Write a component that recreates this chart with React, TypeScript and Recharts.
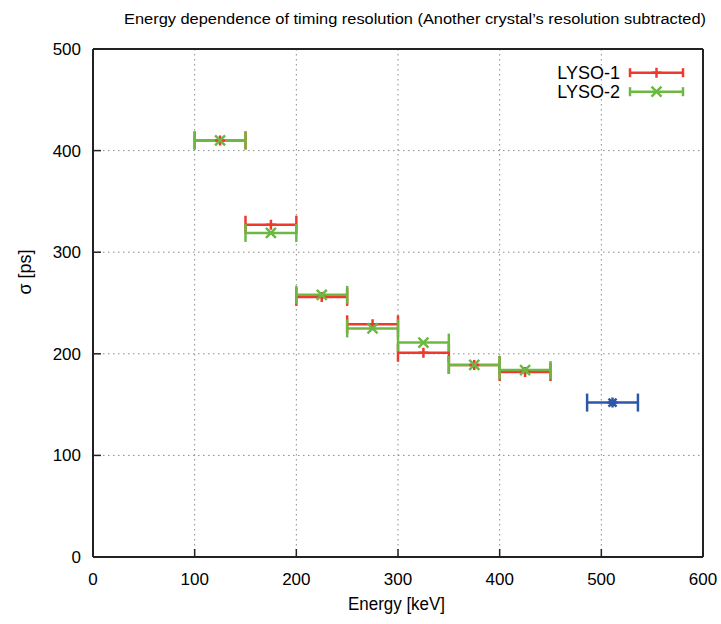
import { CartesianGrid, ErrorBar, Legend, Scatter, ScatterChart, XAxis, YAxis } from "recharts";

// bin centres (keV) and half bin width
const energy = [125, 175, 225, 275, 325, 375, 425];
const binHalf = [25, 25, 25, 25, 25, 25, 25];
// sigma [ps]
const lyso1 = [410, 327, 256, 229, 201, 189, 182];
const lyso2 = [410, 319, 258, 225, 211, 189, 184];
// photopeak point
const peakEnergy = [511];
const peakSigma = [152];
const peakHalf = [25];

const energyTicks = [0, 100, 200, 300, 400, 500, 600];
const sigmaTicks = [0, 100, 200, 300, 400, 500];

const RED = "#ee3a2e";
const GREEN = "#6cb843";
const BLUE = "#2c57a8";
const AXIS = "#222";
const FONT = "'Liberation Sans', Arial, Helvetica, sans-serif";

const rows = (xs: number[], ys: number[], es: number[]) =>
  xs.map((x, i) => ({ x, y: ys[i], err: es[i] }));

const d1 = rows(energy, lyso1, binHalf);
const d2 = rows(energy, lyso2, binHalf);
const dPeak = rows(peakEnergy, peakSigma, peakHalf);

type Pt = { cx?: number; cy?: number; fill?: string };

const Plus = ({ cx = 0, cy = 0, fill }: Pt) => (
  <path d={`M${cx - 5},${cy}H${cx + 5}M${cx},${cy - 5}V${cy + 5}`} stroke={fill} strokeWidth={2.5} />
);
const Cross = ({ cx = 0, cy = 0, fill }: Pt) => (
  <path
    d={`M${cx - 5},${cy - 5}L${cx + 5},${cy + 5}M${cx - 5},${cy + 5}L${cx + 5},${cy - 5}`}
    stroke={fill}
    strokeWidth={2.5}
  />
);
const Star = ({ cx = 0, cy = 0, fill }: Pt) => (
  <path
    d={`M${cx - 5},${cy}H${cx + 5}M${cx},${cy - 5}V${cy + 5}M${cx - 4},${cy - 4}L${cx + 4},${cy + 4}M${cx - 4},${cy + 4}L${cx + 4},${cy - 4}`}
    stroke={fill}
    strokeWidth={2.5}
  />
);

// gnuplot style: ticks point inwards, labels outside
const BottomTick = (p: any) => (
  <g>
    <line x1={p.x} x2={p.x} y1={p.y} y2={p.y - 8} stroke={AXIS} strokeWidth={1.5} />
    <text x={p.x} y={p.y + 28} textAnchor="middle" fontSize={17} fontFamily={FONT} fill="#000">
      {p.payload.value}
    </text>
  </g>
);
const TopTick = (p: any) => <line x1={p.x} x2={p.x} y1={p.y} y2={p.y + 8} stroke={AXIS} strokeWidth={1.5} />;
const LeftTick = (p: any) => (
  <g>
    <line x1={p.x} x2={p.x + 8} y1={p.y} y2={p.y} stroke={AXIS} strokeWidth={1.5} />
    <text x={p.x - 12} y={p.y + 6} textAnchor="end" fontSize={17} fontFamily={FONT} fill="#000">
      {p.payload.value}
    </text>
  </g>
);
const RightTick = (p: any) => <line x1={p.x} x2={p.x - 8} y1={p.y} y2={p.y} stroke={AXIS} strokeWidth={1.5} />;

const LegendBox = () => {
  const items = [
    { name: "LYSO-1", color: RED, Mark: Plus },
    { name: "LYSO-2", color: GREEN, Mark: Cross },
  ];
  return (
    <svg width={170} height={50} style={{ display: "block" }}>
      {items.map((it, i) => {
        const y = 17.7 + i * 19;
        return (
          <g key={it.name}>
            <text x={80} y={y + 6} textAnchor="end" fontSize={18} fontFamily={FONT} fill="#000">
              {it.name}
            </text>
            <line x1={90} x2={143} y1={y} y2={y} stroke={it.color} strokeWidth={2.5} />
            <line x1={90} x2={90} y1={y - 4.5} y2={y + 4.5} stroke={it.color} strokeWidth={2.5} />
            <line x1={143} x2={143} y1={y - 4.5} y2={y + 4.5} stroke={it.color} strokeWidth={2.5} />
            <it.Mark cx={116.5} cy={y} fill={it.color} />
          </g>
        );
      })}
    </svg>
  );
};

const axisLine = { stroke: AXIS, strokeWidth: 2 };

export default function App() {
  return (
    <div style={{ position: "absolute", left: 0, top: 0, width: 721, height: 624, background: "#fff" }}>
      <ScatterChart width={721} height={624} margin={{ top: 48, right: 17, bottom: 27, left: 33 }}>
        <CartesianGrid stroke="#8a8a8a" strokeDasharray="1.5 3.5" strokeWidth={1} />
        <XAxis
          type="number"
          dataKey="x"
          domain={[0, 600]}
          ticks={energyTicks}
          height={40}
          tickSize={0}
          tickMargin={0}
          tickLine={false}
          axisLine={axisLine}
          tick={BottomTick}
        />
        <XAxis
          xAxisId="top"
          orientation="top"
          type="number"
          domain={[0, 600]}
          ticks={energyTicks.slice(1, -1)}
          height={1}
          tickSize={0}
          tickMargin={0}
          tickLine={false}
          axisLine={axisLine}
          tick={TopTick}
        />
        <YAxis
          type="number"
          dataKey="y"
          domain={[0, 500]}
          ticks={sigmaTicks}
          width={60}
          tickSize={0}
          tickMargin={0}
          tickLine={false}
          axisLine={axisLine}
          tick={LeftTick}
        />
        <YAxis
          yAxisId="right"
          orientation="right"
          type="number"
          domain={[0, 500]}
          ticks={sigmaTicks.slice(1, -1)}
          width={1}
          tickSize={0}
          tickMargin={0}
          tickLine={false}
          axisLine={axisLine}
          tick={RightTick}
        />
        <Legend
          layout="vertical"
          align="center"
          verticalAlign="middle"
          content={LegendBox}
          wrapperStyle={{ position: "absolute", left: 540, top: 55, width: 170, height: 50 }}
        />
        <Scatter name="LYSO-1" data={d1} fill={RED} shape={Plus} isAnimationActive={false}>
          <ErrorBar dataKey="err" direction="x" width={9} stroke={RED} strokeWidth={2.5} />
        </Scatter>
        <Scatter name="LYSO-2" data={d2} fill={GREEN} shape={Cross} isAnimationActive={false}>
          <ErrorBar dataKey="err" direction="x" width={9} stroke={GREEN} strokeWidth={2.5} />
        </Scatter>
        <Scatter name="511 keV" data={dPeak} fill={BLUE} shape={Star} legendType="none" isAnimationActive={false}>
          <ErrorBar dataKey="err" direction="x" width={9} stroke={BLUE} strokeWidth={2.5} />
        </Scatter>
      </ScatterChart>
      <svg
        width={721}
        height={624}
        style={{ position: "absolute", left: 0, top: 0, pointerEvents: "none" }}
      >
        <text
          x={415}
          y={24}
          textAnchor="middle"
          fontSize={15.5}
          fontFamily={FONT}
          textLength={582}
          lengthAdjust="spacingAndGlyphs"
        >
          Energy dependence of timing resolution (Another crystal’s resolution subtracted)
        </text>
        <text
          x={396.5}
          y={610}
          textAnchor="middle"
          fontSize={18}
          fontFamily={FONT}
          textLength={97}
          lengthAdjust="spacingAndGlyphs"
        >
          Energy [keV]
        </text>
        <text transform="translate(31,272) rotate(-90)" textAnchor="middle" fontSize={18} fontFamily={FONT}>
          σ [ps]
        </text>
      </svg>
    </div>
  );
}
